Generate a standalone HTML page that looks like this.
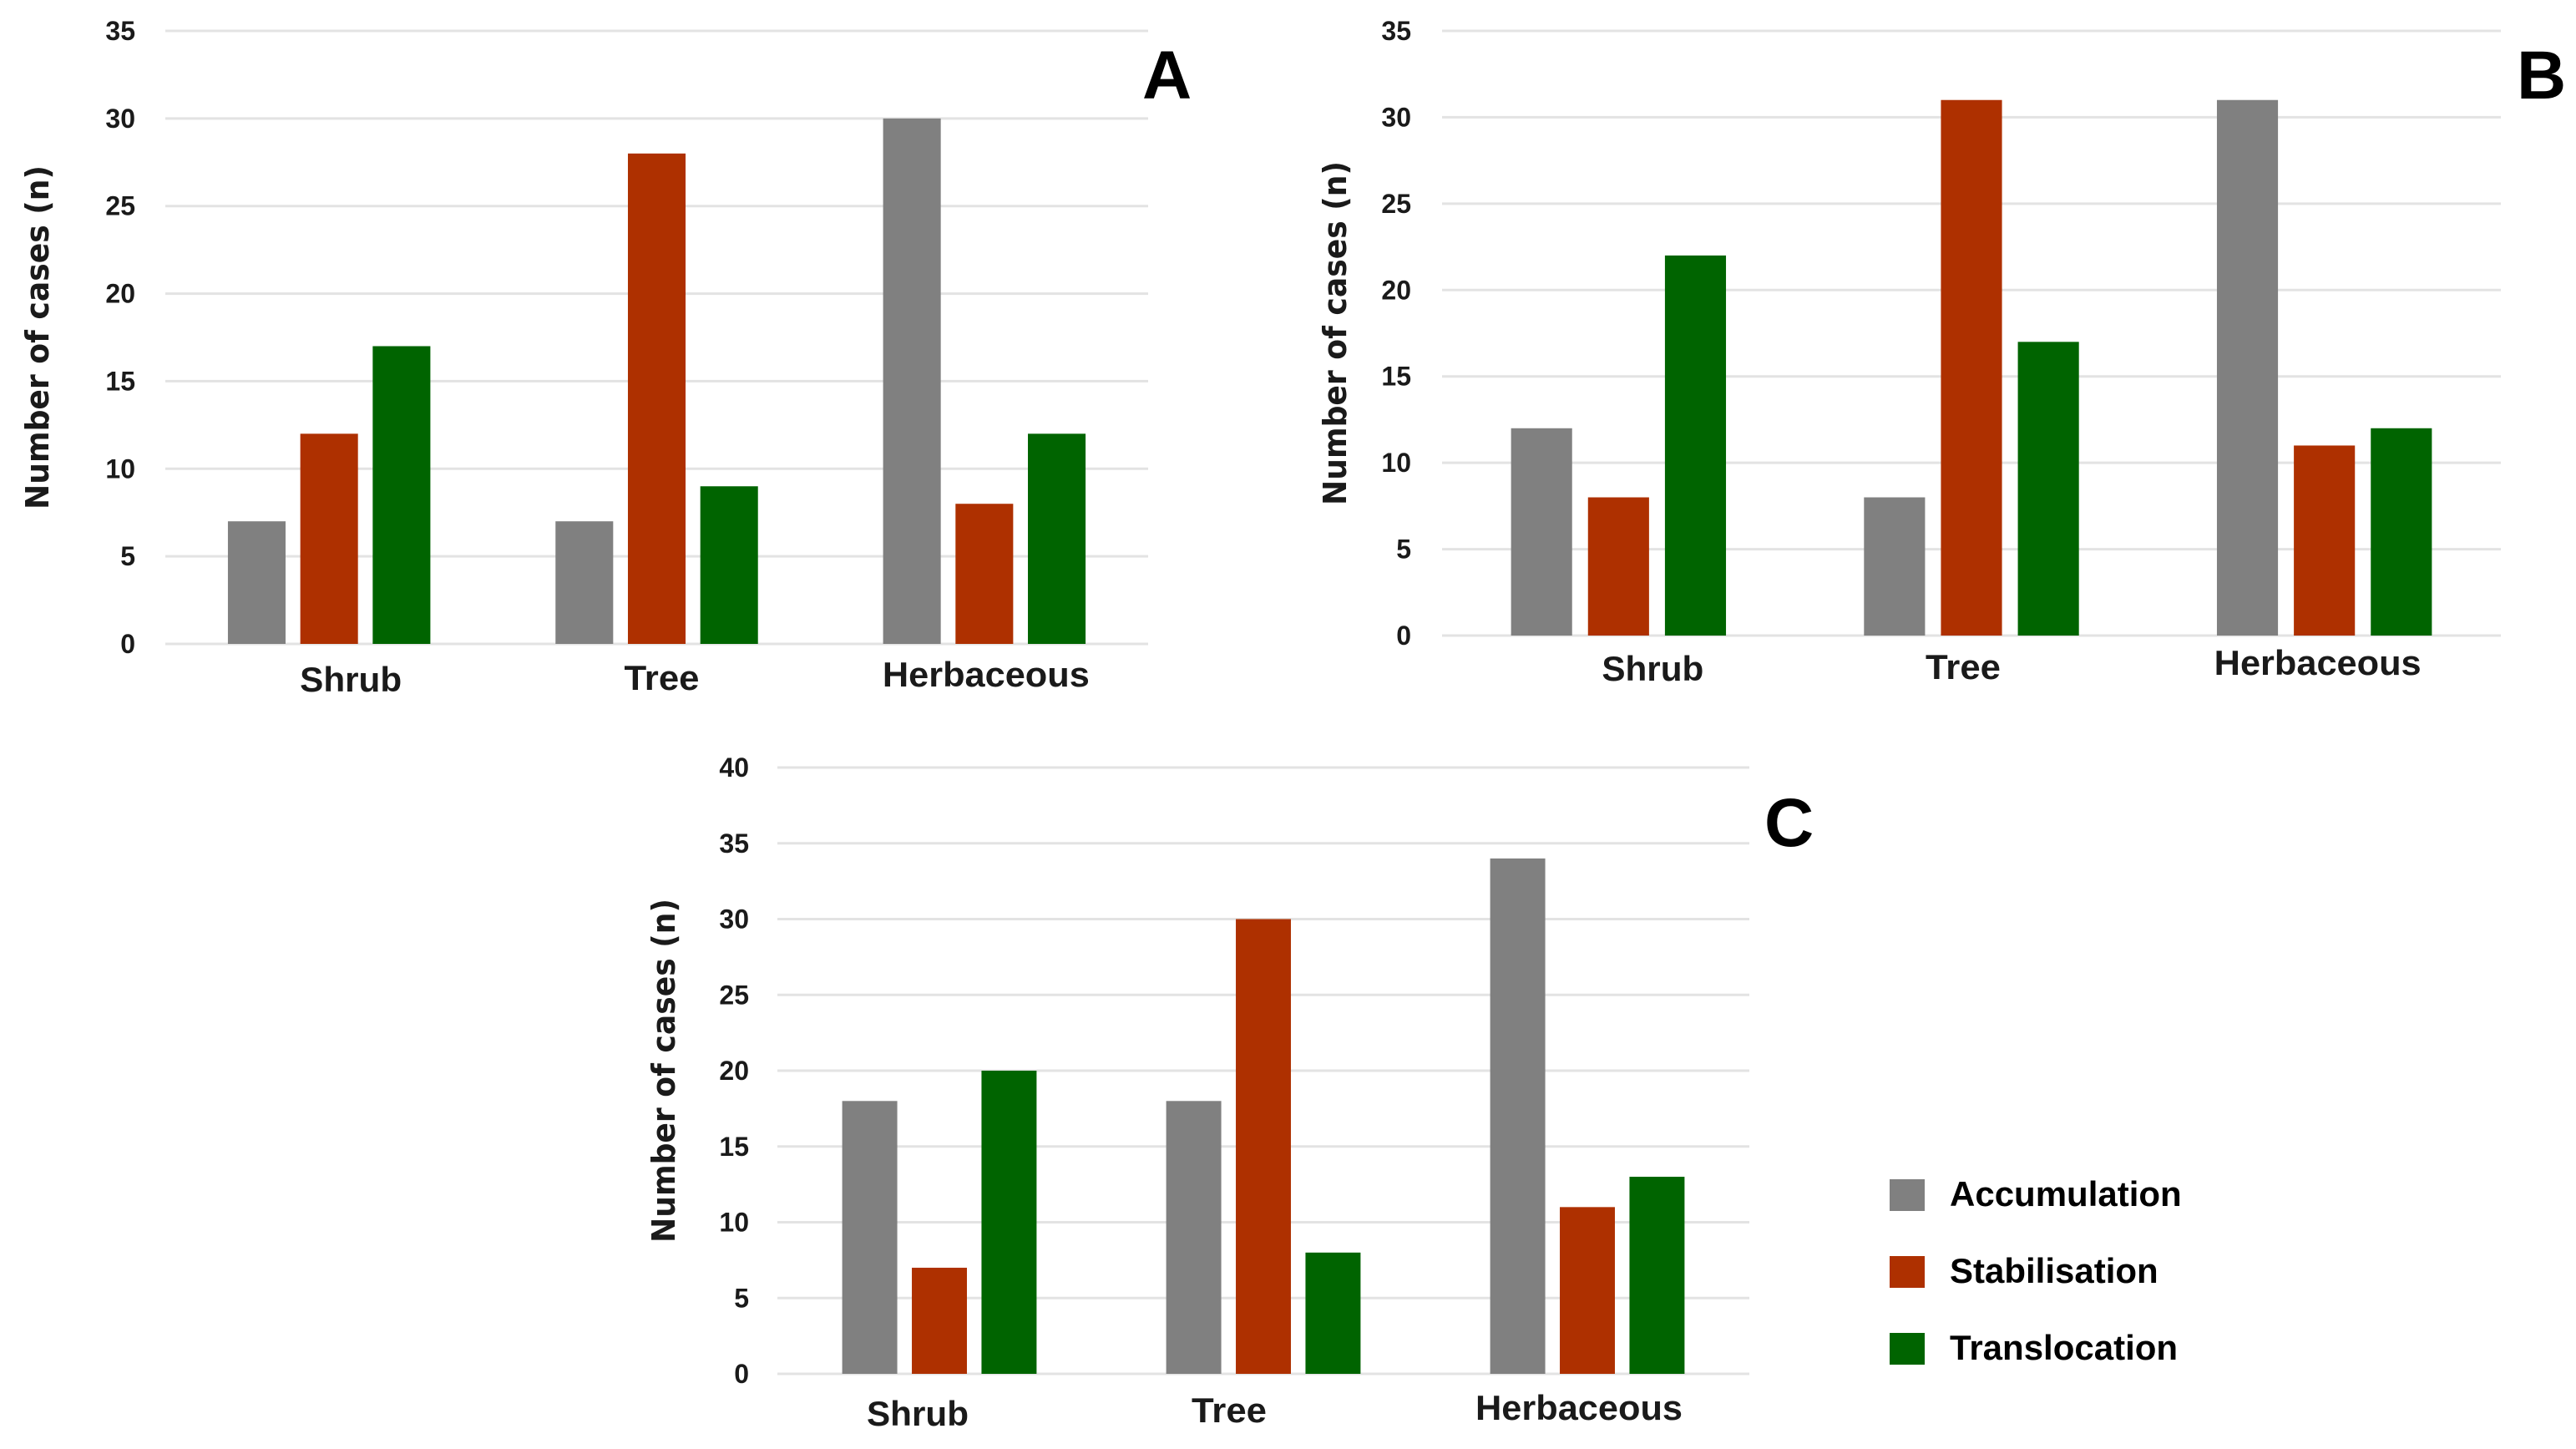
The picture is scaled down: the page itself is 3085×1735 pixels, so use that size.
<!DOCTYPE html>
<html><head><meta charset="utf-8"><style>
html,body{margin:0;padding:0;background:#fff;}
svg{display:block;}
</style></head><body>
<svg id="fig" width="3085" height="1735" viewBox="0 0 3085 1735" xmlns="http://www.w3.org/2000/svg"></svg>
<script>
const categories = ["Shrub", "Tree", "Herbaceous"];
const seriesNames = ["Accumulation", "Stabilisation", "Translocation"];
const seriesColors = ["#808080", "#ae3000", "#006400"];
const accumulationA = [7, 7, 30];
const stabilisationA = [12, 28, 8];
const translocationA = [17, 9, 12];
const accumulationB = [12, 8, 31];
const stabilisationB = [8, 31, 11];
const translocationB = [22, 17, 12];
const accumulationC = [18, 18, 34];
const stabilisationC = [7, 30, 11];
const translocationC = [20, 8, 13];
const ticksAB = [0, 5, 10, 15, 20, 25, 30, 35];
const ticksC = [0, 5, 10, 15, 20, 25, 30, 35, 40];

const NS = "http://www.w3.org/2000/svg";
const fig = document.getElementById("fig");
function mk(tag, attrs, parent, text) {
  const e = document.createElementNS(NS, tag);
  for (const k in attrs) e.setAttribute(k, attrs[k]);
  if (text !== undefined) e.textContent = text;
  parent.appendChild(e);
  return e;
}
const catLen = {Shrub: 122, Tree: 90, Herbaceous: 248};

function drawChart(id, layout, series, ticks, letter) {
  const g = mk("g", {}, fig);
  
  
  const maxV = ticks[ticks.length - 1];
  const y = v => layout.y0 - (v / maxV) * (layout.y0 - layout.yTop);
  const cw = (layout.x1 - layout.x0) / categories.length;
  const bw = cw * layout.bw, gap = cw * 0.045;
  const groupW = 3 * bw + 2 * gap;
  const xBar = (ci, si) => layout.x0 + ci * cw + (cw - groupW) / 2 + si * (bw + gap);
  ticks.forEach(t => {
    const l = mk("line", {x1: layout.x0, x2: layout.x1, y1: y(t), y2: y(t), stroke: "#e3e3e3", "stroke-width": 3}, g);
    
    
    const tx = mk("text", {x: layout.tickX, y: y(t) + 11, "text-anchor": "end", "font-family": "Liberation Sans, sans-serif", "font-weight": "bold", "font-size": 32, fill: "#1a1a1a"}, g, String(t));
    
    
  });
  series.forEach((vals, si) => {
    vals.forEach((v, ci) => {
      const r = mk("rect", {x: xBar(ci, si), y: y(v), width: bw, height: y(0) - y(v), fill: seriesColors[si]}, g);
      
      
    });
  });
  categories.forEach((c, ci) => {
    const cx = layout.x0 + ci * cw + cw / 2 + layout.catDx[ci];
    const t = mk("text", {x: cx, y: layout.catY[ci], "text-anchor": "middle", "font-family": "Liberation Sans, sans-serif", "font-weight": "bold", "font-size": 42, fill: "#1a1a1a", textLength: catLen[c], lengthAdjust: "spacingAndGlyphs"}, g, c);
    
    
  });
  const ty = (layout.y0 + layout.yTop) / 2;
  const tt = mk("text", {x: 0, y: 0, transform: "translate(" + layout.titleX + "," + ty + ") rotate(-90)", "text-anchor": "middle", "font-family": "DejaVu Sans, sans-serif", "font-weight": "bold", "font-size": 38, fill: "#1a1a1a", textLength: 412, lengthAdjust: "spacingAndGlyphs"}, g, "Number of cases (n)");
  
  
  const lt = mk("text", {x: layout.letterX, y: layout.letterY, "font-family": "Liberation Sans, sans-serif", "font-weight": "bold", "font-size": 82, fill: "#000"}, g, letter);
  
  
}

drawChart("a", {x0: 198, x1: 1375, yTop: 37, y0: 771, tickX: 162, titleX: 58, bw: 0.176, catDx: [26, 6, 2], catY: [828, 826, 822], letterX: 1368, letterY: 118}, [accumulationA, stabilisationA, translocationA], ticksAB, "A");
drawChart("b", {x0: 1727, x1: 2995, yTop: 37, y0: 761, tickX: 1690, titleX: 1612, bw: 0.173, catDx: [41, -10, -8], catY: [815, 813, 808], letterX: 3014, letterY: 118}, [accumulationB, stabilisationB, translocationB], ticksAB, "B");
drawChart("c", {x0: 931, x1: 2095, yTop: 919, y0: 1645, tickX: 897, titleX: 808, bw: 0.17, catDx: [-26, -41, -10], catY: [1707, 1703, 1700], letterX: 2113, letterY: 1013}, [accumulationC, stabilisationC, translocationC], ticksC, "C");

const leg = mk("g", {}, fig);


const legY = [1412, 1504, 1596];
seriesNames.forEach((n, i) => {
  const s = mk("rect", {x: 2263, y: legY[i], width: 42, height: 38, fill: seriesColors[i]}, leg);
  
  
  const t = mk("text", {x: 2335, y: legY[i] + 32, "font-family": "Liberation Sans, sans-serif", "font-weight": "bold", "font-size": 42, fill: "#000"}, leg, n);
  
  
});
</script>
</body></html>
